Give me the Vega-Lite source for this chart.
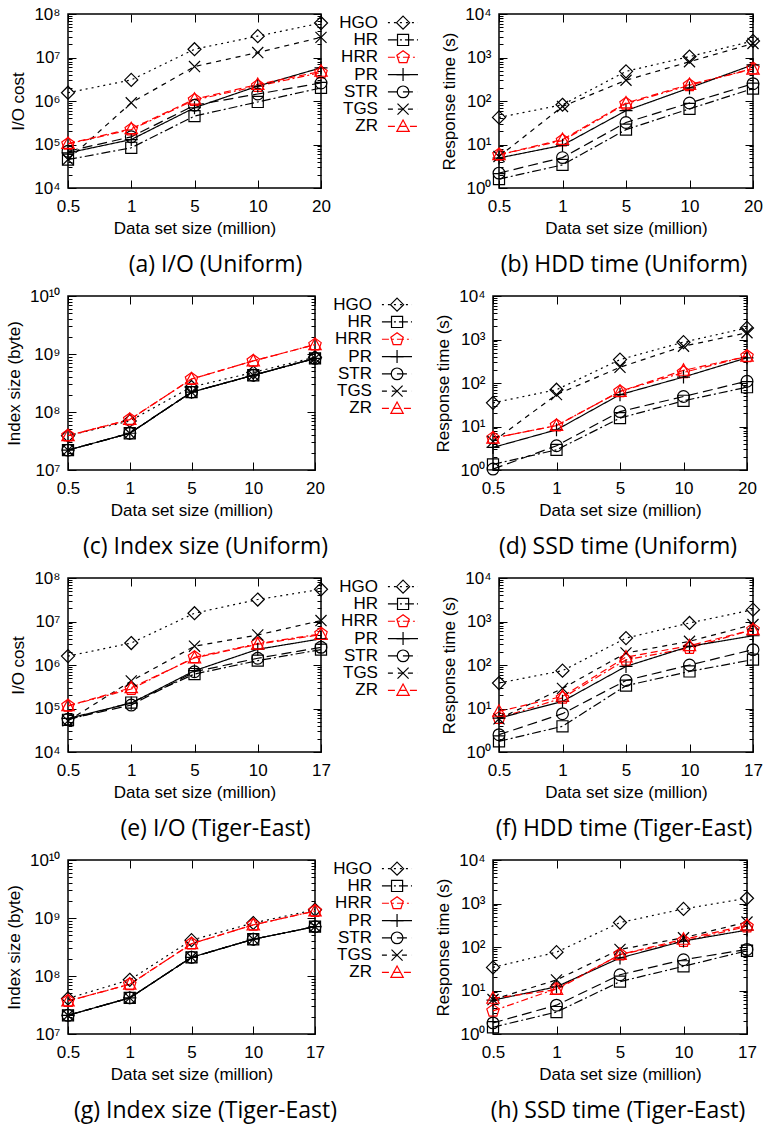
{
"$schema": "https://vega.github.io/schema/vega-lite/v6.json",
"background": "white",
"padding": {"left": 4, "top": 4, "right": 0, "bottom": 2},
"config": {
 "font": "Liberation Sans",
 "view": {"stroke": "#000", "strokeWidth": 1.5},
 "axis": {"domain": false, "grid": false, "tickColor": "#000", "tickWidth": 1, "labelColor": "#000", "titleColor": "#000", "labelFont": "Liberation Sans", "titleFont": "Liberation Sans", "labelFontSize": 17, "titleFontSize": 17, "titleFontWeight": "normal"},
 "title": {"font": "Open Sans", "fontSize": 23, "fontWeight": "normal", "color": "#000"}
},
"datasets": {
 "leg": [{"s":"HGO"},{"s":"HR"},{"s":"HRR"},{"s":"PR"},{"s":"STR"},{"s":"TGS"},{"s":"ZR"}],
 "a": [
  {"s":"HGO","n":0.5,"v":1.55e6},{"s":"HGO","n":1,"v":3.05e6},{"s":"HGO","n":5,"v":1.55e7},{"s":"HGO","n":10,"v":3.1e7},{"s":"HGO","n":20,"v":6.2e7},
  {"s":"HR","n":0.5,"v":4.5e4},{"s":"HR","n":1,"v":8.4e4},{"s":"HR","n":5,"v":4.5e5},{"s":"HR","n":10,"v":9.5e5},{"s":"HR","n":20,"v":2.0e6},
  {"s":"HRR","n":0.5,"v":1.03e5},{"s":"HRR","n":1,"v":2.2e5},{"s":"HRR","n":5,"v":1.05e6},{"s":"HRR","n":10,"v":2.2e6},{"s":"HRR","n":20,"v":4.5e6},
  {"s":"PR","n":0.5,"v":6.4e4},{"s":"PR","n":1,"v":1.3e5},{"s":"PR","n":5,"v":7.0e5},{"s":"PR","n":10,"v":2.2e6},{"s":"PR","n":20,"v":5.8e6},
  {"s":"STR","n":0.5,"v":7.0e4},{"s":"STR","n":1,"v":1.5e5},{"s":"STR","n":5,"v":8.0e5},{"s":"STR","n":10,"v":1.45e6},{"s":"STR","n":20,"v":2.6e6},
  {"s":"TGS","n":0.5,"v":4.5e4},{"s":"TGS","n":1,"v":9.1e5},{"s":"TGS","n":5,"v":6.2e6},{"s":"TGS","n":10,"v":1.3e7},{"s":"TGS","n":20,"v":2.9e7},
  {"s":"ZR","n":0.5,"v":1.05e5},{"s":"ZR","n":1,"v":2.3e5},{"s":"ZR","n":5,"v":1.1e6},{"s":"ZR","n":10,"v":2.4e6},{"s":"ZR","n":20,"v":4.8e6}
 ],
 "b": [
  {"s":"HGO","n":0.5,"v":42},{"s":"HGO","n":1,"v":82},{"s":"HGO","n":5,"v":480},{"s":"HGO","n":10,"v":1050},{"s":"HGO","n":20,"v":2400},
  {"s":"HR","n":0.5,"v":1.6},{"s":"HR","n":1,"v":3.4},{"s":"HR","n":5,"v":22},{"s":"HR","n":10,"v":66},{"s":"HR","n":20,"v":193},
  {"s":"HRR","n":0.5,"v":5.8},{"s":"HRR","n":1,"v":12.3},{"s":"HRR","n":5,"v":86},{"s":"HRR","n":10,"v":230},{"s":"HRR","n":20,"v":560},
  {"s":"PR","n":0.5,"v":4.9},{"s":"PR","n":1,"v":9.6},{"s":"PR","n":5,"v":60},{"s":"PR","n":10,"v":200},{"s":"PR","n":20,"v":680},
  {"s":"STR","n":0.5,"v":2.2},{"s":"STR","n":1,"v":5.0},{"s":"STR","n":5,"v":32},{"s":"STR","n":10,"v":90},{"s":"STR","n":20,"v":250},
  {"s":"TGS","n":0.5,"v":5.3},{"s":"TGS","n":1,"v":75},{"s":"TGS","n":5,"v":300},{"s":"TGS","n":10,"v":800},{"s":"TGS","n":20,"v":2100},
  {"s":"ZR","n":0.5,"v":5.8},{"s":"ZR","n":1,"v":13},{"s":"ZR","n":5,"v":90},{"s":"ZR","n":10,"v":240},{"s":"ZR","n":20,"v":540}
 ],
 "c": [
  {"s":"HGO","n":0.5,"v":3.9e7},{"s":"HGO","n":1,"v":7.0e7},{"s":"HGO","n":5,"v":2.7e8},{"s":"HGO","n":10,"v":4.8e8},{"s":"HGO","n":20,"v":8.8e8},
  {"s":"HR","n":0.5,"v":2.2e7},{"s":"HR","n":1,"v":4.3e7},{"s":"HR","n":5,"v":2.2e8},{"s":"HR","n":10,"v":4.3e8},{"s":"HR","n":20,"v":8.4e8},
  {"s":"HRR","n":0.5,"v":3.9e7},{"s":"HRR","n":1,"v":7.4e7},{"s":"HRR","n":5,"v":3.7e8},{"s":"HRR","n":10,"v":7.6e8},{"s":"HRR","n":20,"v":1.45e9},
  {"s":"PR","n":0.5,"v":2.2e7},{"s":"PR","n":1,"v":4.3e7},{"s":"PR","n":5,"v":2.2e8},{"s":"PR","n":10,"v":4.3e8},{"s":"PR","n":20,"v":8.4e8},
  {"s":"STR","n":0.5,"v":2.2e7},{"s":"STR","n":1,"v":4.3e7},{"s":"STR","n":5,"v":2.2e8},{"s":"STR","n":10,"v":4.3e8},{"s":"STR","n":20,"v":8.4e8},
  {"s":"TGS","n":0.5,"v":2.2e7},{"s":"TGS","n":1,"v":4.3e7},{"s":"TGS","n":5,"v":2.2e8},{"s":"TGS","n":10,"v":4.3e8},{"s":"TGS","n":20,"v":8.4e8},
  {"s":"ZR","n":0.5,"v":3.9e7},{"s":"ZR","n":1,"v":7.4e7},{"s":"ZR","n":5,"v":3.7e8},{"s":"ZR","n":10,"v":7.6e8},{"s":"ZR","n":20,"v":1.45e9}
 ],
 "d": [
  {"s":"HGO","n":0.5,"v":35},{"s":"HGO","n":1,"v":70},{"s":"HGO","n":5,"v":345},{"s":"HGO","n":10,"v":870},{"s":"HGO","n":20,"v":1850},
  {"s":"HR","n":0.5,"v":1.35},{"s":"HR","n":1,"v":2.9},{"s":"HR","n":5,"v":15.6},{"s":"HR","n":10,"v":39},{"s":"HR","n":20,"v":80},
  {"s":"HRR","n":0.5,"v":5.4},{"s":"HRR","n":1,"v":10.5},{"s":"HRR","n":5,"v":64},{"s":"HRR","n":10,"v":175},{"s":"HRR","n":20,"v":410},
  {"s":"PR","n":0.5,"v":3.3},{"s":"PR","n":1,"v":8.4},{"s":"PR","n":5,"v":54},{"s":"PR","n":10,"v":137},{"s":"PR","n":20,"v":380},
  {"s":"STR","n":0.5,"v":1.05},{"s":"STR","n":1,"v":3.6},{"s":"STR","n":5,"v":22},{"s":"STR","n":10,"v":49},{"s":"STR","n":20,"v":110},
  {"s":"TGS","n":0.5,"v":4.5},{"s":"TGS","n":1,"v":54},{"s":"TGS","n":5,"v":230},{"s":"TGS","n":10,"v":700},{"s":"TGS","n":20,"v":1430},
  {"s":"ZR","n":0.5,"v":5.4},{"s":"ZR","n":1,"v":10.5},{"s":"ZR","n":5,"v":64},{"s":"ZR","n":10,"v":195},{"s":"ZR","n":20,"v":410}
 ],
 "e": [
  {"s":"HGO","n":0.5,"v":1.6e6},{"s":"HGO","n":1,"v":3.2e6},{"s":"HGO","n":5,"v":1.55e7},{"s":"HGO","n":10,"v":3.2e7},{"s":"HGO","n":17,"v":5.5e7},
  {"s":"HR","n":0.5,"v":5.5e4},{"s":"HR","n":1,"v":1.37e5},{"s":"HR","n":5,"v":6.2e5},{"s":"HR","n":10,"v":1.26e6},{"s":"HR","n":17,"v":2.26e6},
  {"s":"HRR","n":0.5,"v":1.15e5},{"s":"HRR","n":1,"v":2.8e5},{"s":"HRR","n":5,"v":1.5e6},{"s":"HRR","n":10,"v":3.1e6},{"s":"HRR","n":17,"v":5.2e6},
  {"s":"PR","n":0.5,"v":5.9e4},{"s":"PR","n":1,"v":1.33e5},{"s":"PR","n":5,"v":7.4e5},{"s":"PR","n":10,"v":2.3e6},{"s":"PR","n":17,"v":4.0e6},
  {"s":"STR","n":0.5,"v":5.7e4},{"s":"STR","n":1,"v":1.2e5},{"s":"STR","n":5,"v":7.0e5},{"s":"STR","n":10,"v":1.43e6},{"s":"STR","n":17,"v":2.55e6},
  {"s":"TGS","n":0.5,"v":5.2e4},{"s":"TGS","n":1,"v":4.3e5},{"s":"TGS","n":5,"v":2.7e6},{"s":"TGS","n":10,"v":4.9e6},{"s":"TGS","n":17,"v":1.05e7},
  {"s":"ZR","n":0.5,"v":1.15e5},{"s":"ZR","n":1,"v":3.0e5},{"s":"ZR","n":5,"v":1.45e6},{"s":"ZR","n":10,"v":3.0e6},{"s":"ZR","n":17,"v":5.0e6}
 ],
 "f": [
  {"s":"HGO","n":0.5,"v":38.5},{"s":"HGO","n":1,"v":74},{"s":"HGO","n":5,"v":415},{"s":"HGO","n":10,"v":925},{"s":"HGO","n":17,"v":1870},
  {"s":"HR","n":0.5,"v":1.76},{"s":"HR","n":1,"v":3.9},{"s":"HR","n":5,"v":33.5},{"s":"HR","n":10,"v":71},{"s":"HR","n":17,"v":133},
  {"s":"HRR","n":0.5,"v":6.0},{"s":"HRR","n":1,"v":17.5},{"s":"HRR","n":5,"v":132},{"s":"HRR","n":10,"v":246},{"s":"HRR","n":17,"v":650},
  {"s":"PR","n":0.5,"v":6.0},{"s":"PR","n":1,"v":14.6},{"s":"PR","n":5,"v":93},{"s":"PR","n":10,"v":268},{"s":"PR","n":17,"v":470},
  {"s":"STR","n":0.5,"v":2.5},{"s":"STR","n":1,"v":7.6},{"s":"STR","n":5,"v":44},{"s":"STR","n":10,"v":100},{"s":"STR","n":17,"v":225},
  {"s":"TGS","n":0.5,"v":5.8},{"s":"TGS","n":1,"v":29},{"s":"TGS","n":5,"v":189},{"s":"TGS","n":10,"v":350},{"s":"TGS","n":17,"v":850},
  {"s":"ZR","n":0.5,"v":8.6},{"s":"ZR","n":1,"v":19},{"s":"ZR","n":5,"v":152},{"s":"ZR","n":10,"v":277},{"s":"ZR","n":17,"v":650}
 ],
 "g": [
  {"s":"HGO","n":0.5,"v":4.1e7},{"s":"HGO","n":1,"v":8.6e7},{"s":"HGO","n":5,"v":4.15e8},{"s":"HGO","n":10,"v":8.2e8},{"s":"HGO","n":17,"v":1.39e9},
  {"s":"HR","n":0.5,"v":2.1e7},{"s":"HR","n":1,"v":4.2e7},{"s":"HR","n":5,"v":2.1e8},{"s":"HR","n":10,"v":4.3e8},{"s":"HR","n":17,"v":7.1e8},
  {"s":"HRR","n":0.5,"v":3.7e7},{"s":"HRR","n":1,"v":7.2e7},{"s":"HRR","n":5,"v":3.6e8},{"s":"HRR","n":10,"v":7.6e8},{"s":"HRR","n":17,"v":1.32e9},
  {"s":"PR","n":0.5,"v":2.1e7},{"s":"PR","n":1,"v":4.2e7},{"s":"PR","n":5,"v":2.1e8},{"s":"PR","n":10,"v":4.3e8},{"s":"PR","n":17,"v":7.1e8},
  {"s":"STR","n":0.5,"v":2.1e7},{"s":"STR","n":1,"v":4.2e7},{"s":"STR","n":5,"v":2.1e8},{"s":"STR","n":10,"v":4.3e8},{"s":"STR","n":17,"v":7.1e8},
  {"s":"TGS","n":0.5,"v":2.1e7},{"s":"TGS","n":1,"v":4.2e7},{"s":"TGS","n":5,"v":2.1e8},{"s":"TGS","n":10,"v":4.3e8},{"s":"TGS","n":17,"v":7.1e8},
  {"s":"ZR","n":0.5,"v":3.7e7},{"s":"ZR","n":1,"v":7.2e7},{"s":"ZR","n":5,"v":3.6e8},{"s":"ZR","n":10,"v":7.6e8},{"s":"ZR","n":17,"v":1.32e9}
 ],
 "h": [
  {"s":"HGO","n":0.5,"v":34},{"s":"HGO","n":1,"v":76},{"s":"HGO","n":5,"v":365},{"s":"HGO","n":10,"v":750},{"s":"HGO","n":17,"v":1320},
  {"s":"HR","n":0.5,"v":1.43},{"s":"HR","n":1,"v":3.2},{"s":"HR","n":5,"v":16},{"s":"HR","n":10,"v":36},{"s":"HR","n":17,"v":82},
  {"s":"HRR","n":0.5,"v":3.4},{"s":"HRR","n":1,"v":11},{"s":"HRR","n":5,"v":67},{"s":"HRR","n":10,"v":137},{"s":"HRR","n":17,"v":295},
  {"s":"PR","n":0.5,"v":6.0},{"s":"PR","n":1,"v":12.2},{"s":"PR","n":5,"v":56},{"s":"PR","n":10,"v":137},{"s":"PR","n":17,"v":245},
  {"s":"STR","n":0.5,"v":1.8},{"s":"STR","n":1,"v":4.6},{"s":"STR","n":5,"v":23},{"s":"STR","n":10,"v":51},{"s":"STR","n":17,"v":88},
  {"s":"TGS","n":0.5,"v":6.2},{"s":"TGS","n":1,"v":17.5},{"s":"TGS","n":5,"v":88},{"s":"TGS","n":10,"v":163},{"s":"TGS","n":17,"v":375},
  {"s":"ZR","n":0.5,"v":6.6},{"s":"ZR","n":1,"v":10.5},{"s":"ZR","n":5,"v":67},{"s":"ZR","n":10,"v":150},{"s":"ZR","n":17,"v":315}
 ]
},
"spacing": 8,
"bounds": "full",
"resolve": {"scale": {"x": "independent", "y": "independent"}},
"vconcat": [
 {"hconcat": [
  {"width": 253, "height": 174, "data": {"name": "a"},
   "title": {"text": "(a) I/O (Uniform)", "orient": "bottom", "frame": "group", "dx": 21, "offset": 18},
   "layer": [
    {"mark": {"type": "line", "strokeWidth": 1.2},
     "encoding": {
      "x": {"field": "n", "type": "ordinal", "scale": {"type": "point", "padding": 0}, "axis": {"orient": "bottom", "title": "Data set size (million)", "labelAngle": 0, "tickSize": -8, "labelPadding": 18, "titlePadding": 6}},
      "y": {"field": "v", "type": "quantitative", "scale": {"type": "log", "domain": [1e4, 1e8], "nice": false}, "axis": {"orient": "left", "title": "I/O cost", "tickCount": 50, "labelOverlap": false, "labelExpr": "abs(log(datum.value)/LN10 - round(log(datum.value)/LN10)) < 0.001 ? ['10⁰','10¹','10²','10³','10⁴','10⁵','10⁶','10⁷','10⁸','10⁹','10¹⁰'][round(log(datum.value)/LN10)] : ''", "tickSize": {"condition": {"test": "abs(log(datum.value)/LN10 - round(log(datum.value)/LN10)) < 0.001", "value": -8}, "value": -4}, "labelPadding": 16, "titlePadding": 6}},
      "color": {"field": "s", "type": "nominal", "scale": {"domain": ["HGO","HR","HRR","PR","STR","TGS","ZR"], "range": ["#000","#000","#f00","#000","#000","#000","#f00"]}, "legend": null},
      "strokeDash": {"field": "s", "type": "nominal", "scale": {"domain": ["HGO","HR","HRR","PR","STR","TGS","ZR"], "range": [[2,4],[9,3,2,3],[7,3,2,3],[1,0],[10,5],[5,5],[7,4]]}, "legend": null}}},
    {"mark": {"type": "point", "filled": false, "size": 170, "strokeWidth": 1.2, "opacity": 1},
     "encoding": {
      "x": {"field": "n", "type": "ordinal", "axis": {"orient": "top", "title": null, "labels": false, "tickSize": -8}},
      "y": {"field": "v", "type": "quantitative", "axis": {"orient": "right", "title": null, "labels": false, "tickCount": 50, "tickSize": {"condition": {"test": "abs(log(datum.value)/LN10 - round(log(datum.value)/LN10)) < 0.001", "value": -8}, "value": -4}}},
      "color": {"field": "s", "type": "nominal", "legend": null},
      "shape": {"field": "s", "type": "nominal", "scale": {"domain": ["HGO","HR","HRR","PR","STR","TGS","ZR"], "range": ["M0,-1L1,0L0,1L-1,0Z","M-0.85,-0.85L0.85,-0.85L0.85,0.85L-0.85,0.85Z","M0,-1L0.95,-0.31L0.59,0.81L-0.59,0.81L-0.95,-0.31Z","M-1,0L1,0M0,-1L0,1","M0.9,0A0.9,0.9,0,1,1,-0.9,0A0.9,0.9,0,1,1,0.9,0Z","M-0.85,-0.85L0.85,0.85M-0.85,0.85L0.85,-0.85","M0,-1L0.95,0.75L-0.95,0.75Z"]}, "legend": null}}}
   ],
   "resolve": {"axis": {"x": "independent", "y": "independent"}}},
  {"width": 178, "height": {"step": 17.3}, "data": {"name": "leg"}, "view": {"stroke": null},
   "encoding": {"y": {"field": "s", "type": "nominal", "scale": {"type": "point", "domain": ["HGO","HR","HRR","PR","STR","TGS","ZR"], "padding": 0.5}, "axis": null}},
   "layer": [
    {"mark": {"type": "text", "align": "right", "baseline": "middle", "fontSize": 17, "font": "Liberation Sans", "color": "#000"},
     "encoding": {"x": {"datum": 0.32, "type": "quantitative", "scale": {"domain": [0, 1]}, "axis": null}, "text": {"field": "s"}}},
    {"mark": {"type": "rule", "strokeWidth": 1.2},
     "encoding": {"x": {"datum": 0.376, "type": "quantitative", "scale": {"domain": [0, 1]}, "axis": null}, "x2": {"datum": 0.545},
      "color": {"field": "s", "type": "nominal", "legend": null}, "strokeDash": {"field": "s", "type": "nominal", "legend": null}}},
    {"mark": {"type": "point", "filled": false, "size": 170, "strokeWidth": 1.2, "opacity": 1},
     "encoding": {"x": {"datum": 0.461, "type": "quantitative", "scale": {"domain": [0, 1]}, "axis": null},
      "color": {"field": "s", "type": "nominal", "legend": null}, "shape": {"field": "s", "type": "nominal", "legend": null}}}
   ]},
  {"width": 254, "height": 174, "data": {"name": "b"},
   "title": {"text": "(b) HDD time (Uniform)", "orient": "bottom", "frame": "group", "dx": -2, "offset": 18},
   "layer": [
    {"mark": {"type": "line", "strokeWidth": 1.2},
     "encoding": {
      "x": {"field": "n", "type": "ordinal", "scale": {"type": "point", "padding": 0}, "axis": {"orient": "bottom", "title": "Data set size (million)", "labelAngle": 0, "tickSize": -8, "labelPadding": 18, "titlePadding": 6}},
      "y": {"field": "v", "type": "quantitative", "scale": {"type": "log", "domain": [1, 1e4], "nice": false}, "axis": {"orient": "left", "title": "Response time (s)", "tickCount": 50, "labelOverlap": false, "labelExpr": "abs(log(datum.value)/LN10 - round(log(datum.value)/LN10)) < 0.001 ? ['10⁰','10¹','10²','10³','10⁴','10⁵','10⁶','10⁷','10⁸','10⁹','10¹⁰'][round(log(datum.value)/LN10)] : ''", "tickSize": {"condition": {"test": "abs(log(datum.value)/LN10 - round(log(datum.value)/LN10)) < 0.001", "value": -8}, "value": -4}, "labelPadding": 16, "titlePadding": 6}},
      "color": {"field": "s", "type": "nominal", "legend": null},
      "strokeDash": {"field": "s", "type": "nominal", "legend": null}}},
    {"mark": {"type": "point", "filled": false, "size": 170, "strokeWidth": 1.2, "opacity": 1},
     "encoding": {
      "x": {"field": "n", "type": "ordinal", "axis": {"orient": "top", "title": null, "labels": false, "tickSize": -8}},
      "y": {"field": "v", "type": "quantitative", "axis": {"orient": "right", "title": null, "labels": false, "tickCount": 50, "tickSize": {"condition": {"test": "abs(log(datum.value)/LN10 - round(log(datum.value)/LN10)) < 0.001", "value": -8}, "value": -4}}},
      "color": {"field": "s", "type": "nominal", "legend": null},
      "shape": {"field": "s", "type": "nominal", "legend": null}}}
   ],
   "resolve": {"axis": {"x": "independent", "y": "independent"}}}
 ], "spacing": 0, "bounds": "flush", "resolve": {"scale": {"x": "independent", "y": "independent"}}},
 {"hconcat": [
  {"width": 247, "height": 174, "data": {"name": "c"},
   "title": {"text": "(c) Index size (Uniform)", "orient": "bottom", "frame": "group", "dx": 14, "offset": 18},
   "layer": [
    {"mark": {"type": "line", "strokeWidth": 1.2},
     "encoding": {
      "x": {"field": "n", "type": "ordinal", "scale": {"type": "point", "padding": 0}, "axis": {"orient": "bottom", "title": "Data set size (million)", "labelAngle": 0, "tickSize": -8, "labelPadding": 18, "titlePadding": 6}},
      "y": {"field": "v", "type": "quantitative", "scale": {"type": "log", "domain": [1e7, 1e10], "nice": false}, "axis": {"orient": "left", "title": "Index size (byte)", "tickCount": 50, "labelOverlap": false, "labelExpr": "abs(log(datum.value)/LN10 - round(log(datum.value)/LN10)) < 0.001 ? ['10⁰','10¹','10²','10³','10⁴','10⁵','10⁶','10⁷','10⁸','10⁹','10¹⁰'][round(log(datum.value)/LN10)] : ''", "tickSize": {"condition": {"test": "abs(log(datum.value)/LN10 - round(log(datum.value)/LN10)) < 0.001", "value": -8}, "value": -4}, "labelPadding": 16, "titlePadding": 6}},
      "color": {"field": "s", "type": "nominal", "legend": null},
      "strokeDash": {"field": "s", "type": "nominal", "legend": null}}},
    {"mark": {"type": "point", "filled": false, "size": 170, "strokeWidth": 1.2, "opacity": 1},
     "encoding": {
      "x": {"field": "n", "type": "ordinal", "axis": {"orient": "top", "title": null, "labels": false, "tickSize": -8}},
      "y": {"field": "v", "type": "quantitative", "axis": {"orient": "right", "title": null, "labels": false, "tickCount": 50, "tickSize": {"condition": {"test": "abs(log(datum.value)/LN10 - round(log(datum.value)/LN10)) < 0.001", "value": -8}, "value": -4}}},
      "color": {"field": "s", "type": "nominal", "legend": null},
      "shape": {"field": "s", "type": "nominal", "legend": null}}}
   ],
   "resolve": {"axis": {"x": "independent", "y": "independent"}}},
  {"width": 178, "height": {"step": 17.3}, "data": {"name": "leg"}, "view": {"stroke": null},
   "encoding": {"y": {"field": "s", "type": "nominal", "scale": {"type": "point", "domain": ["HGO","HR","HRR","PR","STR","TGS","ZR"], "padding": 0.5}, "axis": null}},
   "layer": [
    {"mark": {"type": "text", "align": "right", "baseline": "middle", "fontSize": 17, "font": "Liberation Sans", "color": "#000"},
     "encoding": {"x": {"datum": 0.32, "type": "quantitative", "scale": {"domain": [0, 1]}, "axis": null}, "text": {"field": "s"}}},
    {"mark": {"type": "rule", "strokeWidth": 1.2},
     "encoding": {"x": {"datum": 0.376, "type": "quantitative", "scale": {"domain": [0, 1]}, "axis": null}, "x2": {"datum": 0.545},
      "color": {"field": "s", "type": "nominal", "legend": null}, "strokeDash": {"field": "s", "type": "nominal", "legend": null}}},
    {"mark": {"type": "point", "filled": false, "size": 170, "strokeWidth": 1.2, "opacity": 1},
     "encoding": {"x": {"datum": 0.461, "type": "quantitative", "scale": {"domain": [0, 1]}, "axis": null},
      "color": {"field": "s", "type": "nominal", "legend": null}, "shape": {"field": "s", "type": "nominal", "legend": null}}}
   ]},
  {"width": 254, "height": 174, "data": {"name": "d"},
   "title": {"text": "(d) SSD time (Uniform)", "orient": "bottom", "frame": "group", "dx": -2, "offset": 18},
   "layer": [
    {"mark": {"type": "line", "strokeWidth": 1.2},
     "encoding": {
      "x": {"field": "n", "type": "ordinal", "scale": {"type": "point", "padding": 0}, "axis": {"orient": "bottom", "title": "Data set size (million)", "labelAngle": 0, "tickSize": -8, "labelPadding": 18, "titlePadding": 6}},
      "y": {"field": "v", "type": "quantitative", "scale": {"type": "log", "domain": [1, 1e4], "nice": false}, "axis": {"orient": "left", "title": "Response time (s)", "tickCount": 50, "labelOverlap": false, "labelExpr": "abs(log(datum.value)/LN10 - round(log(datum.value)/LN10)) < 0.001 ? ['10⁰','10¹','10²','10³','10⁴','10⁵','10⁶','10⁷','10⁸','10⁹','10¹⁰'][round(log(datum.value)/LN10)] : ''", "tickSize": {"condition": {"test": "abs(log(datum.value)/LN10 - round(log(datum.value)/LN10)) < 0.001", "value": -8}, "value": -4}, "labelPadding": 16, "titlePadding": 6}},
      "color": {"field": "s", "type": "nominal", "legend": null},
      "strokeDash": {"field": "s", "type": "nominal", "legend": null}}},
    {"mark": {"type": "point", "filled": false, "size": 170, "strokeWidth": 1.2, "opacity": 1},
     "encoding": {
      "x": {"field": "n", "type": "ordinal", "axis": {"orient": "top", "title": null, "labels": false, "tickSize": -8}},
      "y": {"field": "v", "type": "quantitative", "axis": {"orient": "right", "title": null, "labels": false, "tickCount": 50, "tickSize": {"condition": {"test": "abs(log(datum.value)/LN10 - round(log(datum.value)/LN10)) < 0.001", "value": -8}, "value": -4}}},
      "color": {"field": "s", "type": "nominal", "legend": null},
      "shape": {"field": "s", "type": "nominal", "legend": null}}}
   ],
   "resolve": {"axis": {"x": "independent", "y": "independent"}}}
 ], "spacing": 0, "bounds": "flush", "resolve": {"scale": {"x": "independent", "y": "independent"}}},
 {"hconcat": [
  {"width": 253, "height": 174, "data": {"name": "e"},
   "title": {"text": "(e) I/O (Tiger-East)", "orient": "bottom", "frame": "group", "dx": 21, "offset": 18},
   "layer": [
    {"mark": {"type": "line", "strokeWidth": 1.2},
     "encoding": {
      "x": {"field": "n", "type": "ordinal", "scale": {"type": "point", "padding": 0}, "axis": {"orient": "bottom", "title": "Data set size (million)", "labelAngle": 0, "tickSize": -8, "labelPadding": 18, "titlePadding": 6}},
      "y": {"field": "v", "type": "quantitative", "scale": {"type": "log", "domain": [1e4, 1e8], "nice": false}, "axis": {"orient": "left", "title": "I/O cost", "tickCount": 50, "labelOverlap": false, "labelExpr": "abs(log(datum.value)/LN10 - round(log(datum.value)/LN10)) < 0.001 ? ['10⁰','10¹','10²','10³','10⁴','10⁵','10⁶','10⁷','10⁸','10⁹','10¹⁰'][round(log(datum.value)/LN10)] : ''", "tickSize": {"condition": {"test": "abs(log(datum.value)/LN10 - round(log(datum.value)/LN10)) < 0.001", "value": -8}, "value": -4}, "labelPadding": 16, "titlePadding": 6}},
      "color": {"field": "s", "type": "nominal", "legend": null},
      "strokeDash": {"field": "s", "type": "nominal", "legend": null}}},
    {"mark": {"type": "point", "filled": false, "size": 170, "strokeWidth": 1.2, "opacity": 1},
     "encoding": {
      "x": {"field": "n", "type": "ordinal", "axis": {"orient": "top", "title": null, "labels": false, "tickSize": -8}},
      "y": {"field": "v", "type": "quantitative", "axis": {"orient": "right", "title": null, "labels": false, "tickCount": 50, "tickSize": {"condition": {"test": "abs(log(datum.value)/LN10 - round(log(datum.value)/LN10)) < 0.001", "value": -8}, "value": -4}}},
      "color": {"field": "s", "type": "nominal", "legend": null},
      "shape": {"field": "s", "type": "nominal", "legend": null}}}
   ],
   "resolve": {"axis": {"x": "independent", "y": "independent"}}},
  {"width": 178, "height": {"step": 17.3}, "data": {"name": "leg"}, "view": {"stroke": null},
   "encoding": {"y": {"field": "s", "type": "nominal", "scale": {"type": "point", "domain": ["HGO","HR","HRR","PR","STR","TGS","ZR"], "padding": 0.5}, "axis": null}},
   "layer": [
    {"mark": {"type": "text", "align": "right", "baseline": "middle", "fontSize": 17, "font": "Liberation Sans", "color": "#000"},
     "encoding": {"x": {"datum": 0.32, "type": "quantitative", "scale": {"domain": [0, 1]}, "axis": null}, "text": {"field": "s"}}},
    {"mark": {"type": "rule", "strokeWidth": 1.2},
     "encoding": {"x": {"datum": 0.376, "type": "quantitative", "scale": {"domain": [0, 1]}, "axis": null}, "x2": {"datum": 0.545},
      "color": {"field": "s", "type": "nominal", "legend": null}, "strokeDash": {"field": "s", "type": "nominal", "legend": null}}},
    {"mark": {"type": "point", "filled": false, "size": 170, "strokeWidth": 1.2, "opacity": 1},
     "encoding": {"x": {"datum": 0.461, "type": "quantitative", "scale": {"domain": [0, 1]}, "axis": null},
      "color": {"field": "s", "type": "nominal", "legend": null}, "shape": {"field": "s", "type": "nominal", "legend": null}}}
   ]},
  {"width": 254, "height": 174, "data": {"name": "f"},
   "title": {"text": "(f) HDD time (Tiger-East)", "orient": "bottom", "frame": "group", "dx": -2, "offset": 18},
   "layer": [
    {"mark": {"type": "line", "strokeWidth": 1.2},
     "encoding": {
      "x": {"field": "n", "type": "ordinal", "scale": {"type": "point", "padding": 0}, "axis": {"orient": "bottom", "title": "Data set size (million)", "labelAngle": 0, "tickSize": -8, "labelPadding": 18, "titlePadding": 6}},
      "y": {"field": "v", "type": "quantitative", "scale": {"type": "log", "domain": [1, 1e4], "nice": false}, "axis": {"orient": "left", "title": "Response time (s)", "tickCount": 50, "labelOverlap": false, "labelExpr": "abs(log(datum.value)/LN10 - round(log(datum.value)/LN10)) < 0.001 ? ['10⁰','10¹','10²','10³','10⁴','10⁵','10⁶','10⁷','10⁸','10⁹','10¹⁰'][round(log(datum.value)/LN10)] : ''", "tickSize": {"condition": {"test": "abs(log(datum.value)/LN10 - round(log(datum.value)/LN10)) < 0.001", "value": -8}, "value": -4}, "labelPadding": 16, "titlePadding": 6}},
      "color": {"field": "s", "type": "nominal", "legend": null},
      "strokeDash": {"field": "s", "type": "nominal", "legend": null}}},
    {"mark": {"type": "point", "filled": false, "size": 170, "strokeWidth": 1.2, "opacity": 1},
     "encoding": {
      "x": {"field": "n", "type": "ordinal", "axis": {"orient": "top", "title": null, "labels": false, "tickSize": -8}},
      "y": {"field": "v", "type": "quantitative", "axis": {"orient": "right", "title": null, "labels": false, "tickCount": 50, "tickSize": {"condition": {"test": "abs(log(datum.value)/LN10 - round(log(datum.value)/LN10)) < 0.001", "value": -8}, "value": -4}}},
      "color": {"field": "s", "type": "nominal", "legend": null},
      "shape": {"field": "s", "type": "nominal", "legend": null}}}
   ],
   "resolve": {"axis": {"x": "independent", "y": "independent"}}}
 ], "spacing": 0, "bounds": "flush", "resolve": {"scale": {"x": "independent", "y": "independent"}}},
 {"hconcat": [
  {"width": 247, "height": 174, "data": {"name": "g"},
   "title": {"text": "(g) Index size (Tiger-East)", "orient": "bottom", "frame": "group", "dx": 14, "offset": 18},
   "layer": [
    {"mark": {"type": "line", "strokeWidth": 1.2},
     "encoding": {
      "x": {"field": "n", "type": "ordinal", "scale": {"type": "point", "padding": 0}, "axis": {"orient": "bottom", "title": "Data set size (million)", "labelAngle": 0, "tickSize": -8, "labelPadding": 18, "titlePadding": 6}},
      "y": {"field": "v", "type": "quantitative", "scale": {"type": "log", "domain": [1e7, 1e10], "nice": false}, "axis": {"orient": "left", "title": "Index size (byte)", "tickCount": 50, "labelOverlap": false, "labelExpr": "abs(log(datum.value)/LN10 - round(log(datum.value)/LN10)) < 0.001 ? ['10⁰','10¹','10²','10³','10⁴','10⁵','10⁶','10⁷','10⁸','10⁹','10¹⁰'][round(log(datum.value)/LN10)] : ''", "tickSize": {"condition": {"test": "abs(log(datum.value)/LN10 - round(log(datum.value)/LN10)) < 0.001", "value": -8}, "value": -4}, "labelPadding": 16, "titlePadding": 6}},
      "color": {"field": "s", "type": "nominal", "legend": null},
      "strokeDash": {"field": "s", "type": "nominal", "legend": null}}},
    {"mark": {"type": "point", "filled": false, "size": 170, "strokeWidth": 1.2, "opacity": 1},
     "encoding": {
      "x": {"field": "n", "type": "ordinal", "axis": {"orient": "top", "title": null, "labels": false, "tickSize": -8}},
      "y": {"field": "v", "type": "quantitative", "axis": {"orient": "right", "title": null, "labels": false, "tickCount": 50, "tickSize": {"condition": {"test": "abs(log(datum.value)/LN10 - round(log(datum.value)/LN10)) < 0.001", "value": -8}, "value": -4}}},
      "color": {"field": "s", "type": "nominal", "legend": null},
      "shape": {"field": "s", "type": "nominal", "legend": null}}}
   ],
   "resolve": {"axis": {"x": "independent", "y": "independent"}}},
  {"width": 178, "height": {"step": 17.3}, "data": {"name": "leg"}, "view": {"stroke": null},
   "encoding": {"y": {"field": "s", "type": "nominal", "scale": {"type": "point", "domain": ["HGO","HR","HRR","PR","STR","TGS","ZR"], "padding": 0.5}, "axis": null}},
   "layer": [
    {"mark": {"type": "text", "align": "right", "baseline": "middle", "fontSize": 17, "font": "Liberation Sans", "color": "#000"},
     "encoding": {"x": {"datum": 0.32, "type": "quantitative", "scale": {"domain": [0, 1]}, "axis": null}, "text": {"field": "s"}}},
    {"mark": {"type": "rule", "strokeWidth": 1.2},
     "encoding": {"x": {"datum": 0.376, "type": "quantitative", "scale": {"domain": [0, 1]}, "axis": null}, "x2": {"datum": 0.545},
      "color": {"field": "s", "type": "nominal", "legend": null}, "strokeDash": {"field": "s", "type": "nominal", "legend": null}}},
    {"mark": {"type": "point", "filled": false, "size": 170, "strokeWidth": 1.2, "opacity": 1},
     "encoding": {"x": {"datum": 0.461, "type": "quantitative", "scale": {"domain": [0, 1]}, "axis": null},
      "color": {"field": "s", "type": "nominal", "legend": null}, "shape": {"field": "s", "type": "nominal", "legend": null}}}
   ]},
  {"width": 254, "height": 174, "data": {"name": "h"},
   "title": {"text": "(h) SSD time (Tiger-East)", "orient": "bottom", "frame": "group", "dx": -2, "offset": 18},
   "layer": [
    {"mark": {"type": "line", "strokeWidth": 1.2},
     "encoding": {
      "x": {"field": "n", "type": "ordinal", "scale": {"type": "point", "padding": 0}, "axis": {"orient": "bottom", "title": "Data set size (million)", "labelAngle": 0, "tickSize": -8, "labelPadding": 18, "titlePadding": 6}},
      "y": {"field": "v", "type": "quantitative", "scale": {"type": "log", "domain": [1, 1e4], "nice": false}, "axis": {"orient": "left", "title": "Response time (s)", "tickCount": 50, "labelOverlap": false, "labelExpr": "abs(log(datum.value)/LN10 - round(log(datum.value)/LN10)) < 0.001 ? ['10⁰','10¹','10²','10³','10⁴','10⁵','10⁶','10⁷','10⁸','10⁹','10¹⁰'][round(log(datum.value)/LN10)] : ''", "tickSize": {"condition": {"test": "abs(log(datum.value)/LN10 - round(log(datum.value)/LN10)) < 0.001", "value": -8}, "value": -4}, "labelPadding": 16, "titlePadding": 6}},
      "color": {"field": "s", "type": "nominal", "legend": null},
      "strokeDash": {"field": "s", "type": "nominal", "legend": null}}},
    {"mark": {"type": "point", "filled": false, "size": 170, "strokeWidth": 1.2, "opacity": 1},
     "encoding": {
      "x": {"field": "n", "type": "ordinal", "axis": {"orient": "top", "title": null, "labels": false, "tickSize": -8}},
      "y": {"field": "v", "type": "quantitative", "axis": {"orient": "right", "title": null, "labels": false, "tickCount": 50, "tickSize": {"condition": {"test": "abs(log(datum.value)/LN10 - round(log(datum.value)/LN10)) < 0.001", "value": -8}, "value": -4}}},
      "color": {"field": "s", "type": "nominal", "legend": null},
      "shape": {"field": "s", "type": "nominal", "legend": null}}}
   ],
   "resolve": {"axis": {"x": "independent", "y": "independent"}}}
 ], "spacing": 0, "bounds": "flush", "resolve": {"scale": {"x": "independent", "y": "independent"}}}
]
}
